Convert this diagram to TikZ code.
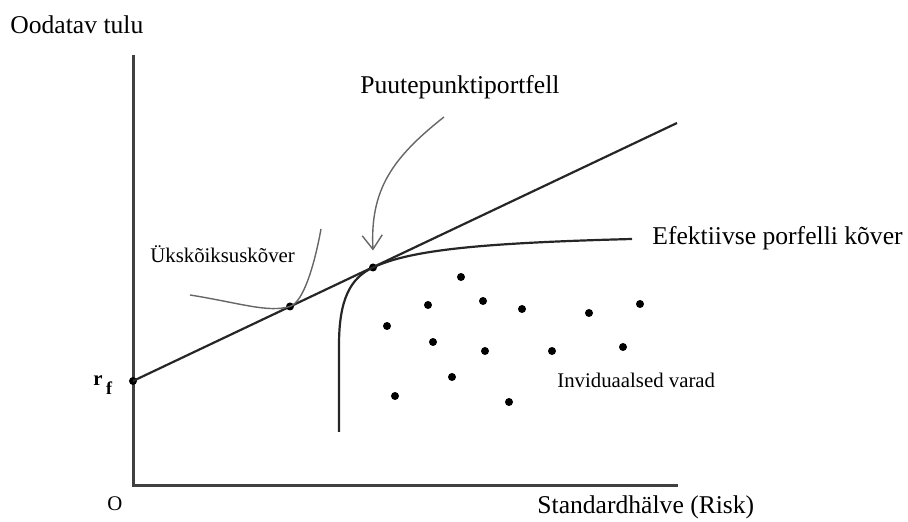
\documentclass[tikz,border=0pt]{standalone}
\usepackage{fontspec}
\setmainfont{Liberation Serif}
\usetikzlibrary{arrows.meta, positioning}

\begin{document}
\begin{tikzpicture}[
    x=0.5pt, y=-0.5pt,
    axis/.style={draw=black!75, line width=1.5pt},
    curve/.style={draw=black!85, line width=1.1pt},
    thincurve/.style={draw=black!60, line width=0.7pt},
    dot/.style={circle, fill=black, inner sep=0pt, minimum size=4pt},
    biglabel/.style={font=\fontsize{12.8}{15}\selectfont, inner sep=0pt, anchor=base west},
    smalllabel/.style={font=\fontsize{10.4}{12}\selectfont, inner sep=0pt, anchor=base west},
    ]
    \useasboundingbox (0,0) rectangle (908,522);

    % Axes
    \coordinate (origin) at (133,485);
    \coordinate (ytop) at (133,55);
    \coordinate (xend) at (678,485);
    \draw[axis] (ytop) -- (origin) -- (xend);
    \node[biglabel] (ylab) at (10,34) {Oodatav tulu};
    \node[biglabel] (xlab) at (537,513) {Standardhälve (Risk)};
    \node[smalllabel, anchor=base] (zero) at (115,510) {O};

    % Capital market line
    \node[dot] (rf) at (133,381) {};
    \node[smalllabel] (rflab) at (93,386) {\textbf{r}\,\raisebox{-4.5pt}{\fontsize{9}{10}\selectfont\textbf{f}}};
    \coordinate (cmlend) at (677,123);
    \draw[curve] (rf.center) -- (cmlend);

    % Tangency and indifference points
    \node[dot] (tp) at (373,267.5) {};
    \node[dot] (ip) at (290,306.5) {};

    % Efficient frontier
    \coordinate (efbot) at (339,432);
    \coordinate (efend) at (632,239);
    \draw[curve] (efbot) -- (339,345) .. controls (339,300) and (350,278) .. (tp.center)
        .. controls (410,250) and (480,243) .. (efend);
    \node[biglabel] (eflab) at (652,245) {Efektiivse porfelli kõver};

    % Indifference curve
    \coordinate (icleft) at (190,295);
    \coordinate (ictop) at (321,229);
    \draw[thincurve] (icleft) .. controls (240,303) and (268,313) .. (ip.center)
        .. controls (304,302) and (315,262) .. (ictop);
    \node[smalllabel] (iclab) at (150,263) {Ükskõiksuskõver};

    % Arrow to tangency portfolio
    \coordinate (arrstart) at (444,117);
    \coordinate[above=8.5pt of tp.center] (arrtip);
    \draw[thincurve, -{Straight Barb[length=7pt, width=10pt]}] (arrstart)
        .. controls (392,158) and (370,190) .. (arrtip);
    \node[biglabel] (tplab) at (360,94) {Puutepunktiportfell};

    % Individual assets
    \foreach \px/\py [count=\i] in {461/277, 428/305, 483/301, 522/309, 589/313, 640/304,
            387/326, 433/342, 485/351, 552/351, 623/347, 452/377, 395/396, 509/402}
        \node[dot] (asset\i) at (\px,\py) {};
    \node[smalllabel] (assetlab) at (557,388) {Inviduaalsed varad};
\end{tikzpicture}
\end{document}
